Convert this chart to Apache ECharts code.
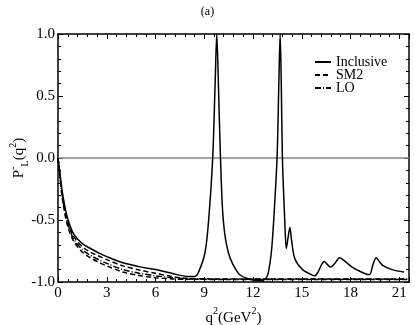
<!DOCTYPE html>
<html>
<head>
<meta charset="utf-8">
<script src="https://cdn.jsdelivr.net/npm/echarts@6/dist/echarts.min.js"></script>
<style>
  html, body { margin: 0; padding: 0; background: #fff; }
  #chart { width: 415px; height: 325px; }
</style>
</head>
<body>
<div id="chart"></div>
<script>
// q^2 values and P_L^-
const q2Inclusive = [0, 0.1, 0.25, 0.5, 0.75, 1, 1.5, 2, 2.5, 3, 4, 5, 6, 7, 8, 8.4, 8.65, 9.05, 9.27, 9.52, 9.67, 9.77,
  9.87, 10.0, 10.17, 10.5, 11.1, 11.6, 12.1, 12.5, 12.8, 12.95, 13.13, 13.28, 13.48, 13.59, 13.67, 13.74, 13.81, 13.95, 14.05,
  14.16, 14.27, 14.37, 14.57, 15.05, 15.65, 15.8, 16.0, 16.22, 16.38, 16.58, 16.78, 17.03, 17.33, 17.63, 18.1, 18.6, 18.95,
  19.18, 19.38, 19.58, 19.75, 19.98, 20.55, 21.3]
const pInclusive = [0, -0.1, -0.26, -0.44, -0.55, -0.62, -0.69, -0.73, -0.765, -0.795, -0.845, -0.876, -0.9, -0.93, -0.955, -0.955, -0.92, -0.76, -0.5, 0, 0.6, 1.0,
  0.6, 0, -0.5, -0.77, -0.93, -0.97, -0.985, -0.99, -0.97, -0.92, -0.76, -0.49, 0, 0.6, 1.0, 0.6, 0, -0.49, -0.73,
  -0.64, -0.56, -0.66, -0.81, -0.9, -0.945, -0.95, -0.92, -0.86, -0.835, -0.86, -0.88, -0.85, -0.805, -0.83, -0.88, -0.915, -0.935,
  -0.94, -0.86, -0.805, -0.83, -0.866, -0.9, -0.92]

const q2Smooth = [0, 0.1, 0.25, 0.5, 0.75, 1, 1.5, 2, 2.5, 3, 4, 5, 6, 7, 8, 10, 14, 18, 21.5]
const pSM2 = [0, -0.11, -0.28, -0.46, -0.57, -0.64, -0.715, -0.76, -0.79, -0.82, -0.87, -0.903, -0.93, -0.955, -0.972, -0.975, -0.975, -0.975, -0.975]
const pLO = [0, -0.12, -0.3, -0.48, -0.59, -0.66, -0.74, -0.785, -0.82, -0.85, -0.9, -0.929, -0.95, -0.965, -0.975, -0.977, -0.977, -0.977, -0.977]
const pLower = [0, -0.13, -0.31, -0.5, -0.61, -0.68, -0.76, -0.805, -0.84, -0.87, -0.92, -0.948, -0.965, -0.975, -0.978, -0.979, -0.979, -0.979, -0.979]

const xTicks = [0, 3, 6, 9, 12, 15, 18, 21]
const yTicks = [-1, -0.5, 0, 0.5, 1]

const serif = 'Liberation Serif'

function pairs(xs, ys) {
  return xs.map((x, i) => [x, ys[i]])
}

let chart = echarts.init(document.getElementById('chart'))

function axisX(pos, labels) {
  return {
    type: 'value',
    position: pos,
    min: 0,
    max: 21.6,
    interval: 3,
    name: labels ? '{b|q}{s|2}{b|(GeV}{s|2}{b|)}' : '',
    nameLocation: 'middle',
    nameGap: 22,
    nameTextStyle: {
      color: '#000',
      fontFamily: serif,
      rich: {
        b: { fontSize: 15, fontFamily: serif, color: '#000', verticalAlign: 'bottom', lineHeight: 20 },
        s: { fontSize: 10, fontFamily: serif, color: '#000', verticalAlign: 'top', lineHeight: 20 }
      }
    },
    axisLine: { show: true, onZero: false, lineStyle: { color: '#000', width: 1.5 } },
    axisTick: { show: true, inside: true, length: 5, lineStyle: { color: '#000' } },
    minorTick: { show: true, splitNumber: 5, length: 3, lineStyle: { color: '#000' } },
    splitLine: { show: false },
    axisLabel: {
      show: labels,
      color: '#000',
      fontFamily: serif,
      fontSize: 15,
      margin: 4,
      showMaxLabel: false,
      formatter: v => xTicks.includes(v) ? String(v) : ''
    }
  }
}

function axisY(pos, labels) {
  return {
    type: 'value',
    position: pos,
    min: -1,
    max: 1,
    interval: 0.5,
    name: labels ? '{b|P}{s|-}{i|L}{b|(q}{s|2}{b|)}' : '',
    nameLocation: 'middle',
    nameRotate: 90,
    nameGap: 28,
    nameMoveOverlap: false,
    nameTextStyle: {
      color: '#000',
      fontFamily: serif,
      rich: {
        b: { fontSize: 15, fontFamily: serif, color: '#000', verticalAlign: 'middle', lineHeight: 22 },
        s: { fontSize: 10, fontFamily: serif, color: '#000', verticalAlign: 'top', lineHeight: 22 },
        i: { fontSize: 10, fontFamily: serif, color: '#000', verticalAlign: 'bottom', lineHeight: 22 }
      }
    },
    axisLine: { show: true, onZero: false, lineStyle: { color: '#000', width: 1.5 } },
    axisTick: { show: true, inside: true, length: 5, lineStyle: { color: '#000' } },
    minorTick: { show: true, splitNumber: 5, length: 3, lineStyle: { color: '#000' } },
    splitLine: { show: false },
    axisLabel: {
      show: labels,
      color: '#000',
      fontFamily: serif,
      fontSize: 15,
      margin: 3,
      formatter: v => yTicks.includes(v) ? v.toFixed(1) : ''
    }
  }
}

function lineSeries(name, data, type) {
  return {
    name: name,
    type: 'line',
    data: data,
    showSymbol: false,
    symbol: 'circle',
    symbolSize: 0,
    smooth: 0.3,
    lineStyle: { color: '#000', width: 1.5, type: type },
    itemStyle: { color: '#000' },
    z: 3
  }
}

let option = {
  animation: false,
  backgroundColor: '#fff',
  title: {
    text: '(a)',
    left: 'center',
    top: 1,
    textStyle: { fontFamily: serif, fontSize: 12, fontWeight: 'normal', color: '#000' }
  },
  grid: { left: 58, right: 6, top: 34, bottom: 43, outerBoundsMode: 'none', containLabel: false },
  legend: {
    data: ['Inclusive', 'SM2', 'LO'],
    orient: 'vertical',
    left: 309,
    top: 50,
    itemWidth: 16,
    itemHeight: 8,
    itemGap: -1,
    itemStyle: { opacity: 0 },
    textStyle: { fontFamily: serif, fontSize: 14, color: '#000' }
  },
  xAxis: [axisX('bottom', true), axisX('top', false)],
  yAxis: [axisY('left', true), axisY('right', false)],
  series: [
    Object.assign(lineSeries('Inclusive', pairs(q2Inclusive, pInclusive), 'solid'), {
      markLine: {
        silent: true,
        symbol: 'none',
        label: { show: false },
        lineStyle: { color: '#888', width: 1.5, type: 'solid' },
        data: [{ yAxis: 0 }],
        z: 1
      }
    }),
    lineSeries('SM2', pairs(q2Smooth, pSM2), [5, 3]),
    lineSeries('LO', pairs(q2Smooth, pLO), [6, 2, 1, 2]),
    lineSeries('', pairs(q2Smooth, pLower), [5, 3])
  ]
}

chart.setOption(option)
</script>
</body>
</html>
